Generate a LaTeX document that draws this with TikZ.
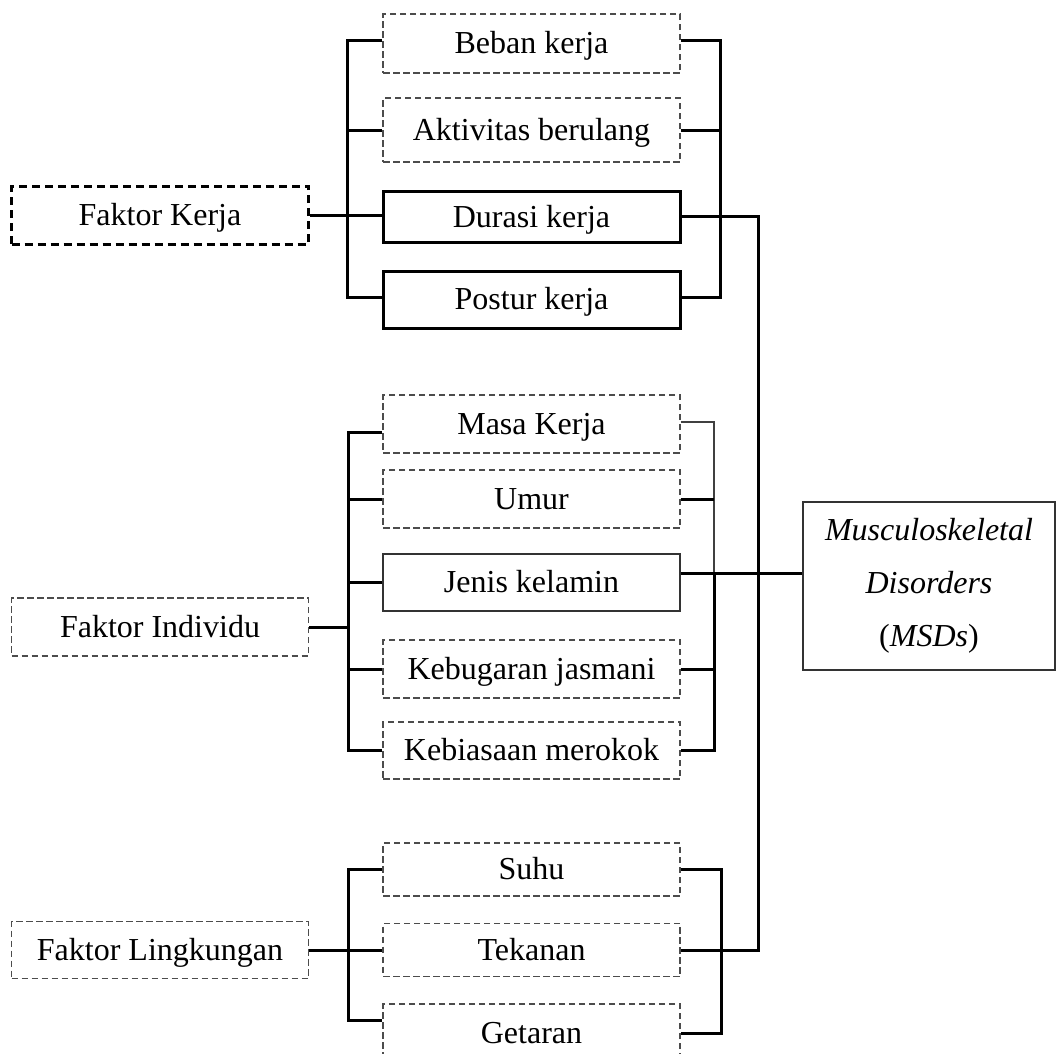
\documentclass[tikz,border=0pt]{standalone}
\usepackage{fontspec}
\setmainfont{Liberation Serif}

\begin{document}
\begin{tikzpicture}[x=1pt, y=-1pt,
    box/.style={rectangle, minimum width=297pt, inner sep=0pt, text height=21pt, text depth=1pt, font=\fontsize{32}{38}\selectfont},
    dbox/.style={box, draw=black!70, line width=1.3pt, dash pattern=on 6.5pt off 3.5pt},
    sbox/.style={box, draw, line width=3pt},
    kbox/.style={box, draw, line width=3pt, dash pattern=on 8pt off 5pt},
    msdbox/.style={rectangle, draw=black!80, line width=1.3pt, align=center, inner sep=0pt, minimum width=252pt, minimum height=168pt, font=\fontsize{32}{53}\selectfont},
    tbox/.style={box, draw=black!80, line width=1.3pt},
    link/.style={line width=3pt},
    thinlink/.style={line width=1.3pt, draw=black!75},
  ]
  \useasboundingbox (0,0) rectangle (1057,1053);

  % Faktor boxes
  \node[kbox, minimum height=58pt] (fkerja)      at (160,215)   {Faktor Kerja};
  \node[dbox, minimum height=58pt] (findividu)   at (160,627)   {Faktor Individu};
  \node[dbox, minimum height=57pt] (flingkungan) at (160,950)   {Faktor Lingkungan};

  % Kerja
  \node[dbox, minimum height=59pt] (beban)     at (531.5,43.5)  {Beban kerja};
  \node[dbox, minimum height=64pt] (aktivitas) at (531.5,130)   {Aktivitas berulang};
  \node[sbox, minimum height=51pt] (durasi)    at (531.5,217)   {Durasi kerja};
  \node[sbox, minimum height=57pt] (postur)    at (531.5,299.5) {Postur kerja};

  % Individu
  \node[dbox, minimum height=58pt] (masa)      at (531.5,424)   {Masa Kerja};
  \node[dbox, minimum height=58pt] (umur)      at (531.5,499)   {Umur};
  \node[tbox, minimum height=57pt] (jenis)     at (531.5,582.5) {Jenis kelamin};
  \node[dbox, minimum height=58pt] (kebugaran) at (531.5,669)   {Kebugaran jasmani};
  \node[dbox, minimum height=57pt] (kebiasaan) at (531.5,750.5) {Kebiasaan merokok};

  % Lingkungan
  \node[dbox, minimum height=53pt] (suhu)    at (531.5,869.5) {Suhu};
  \node[dbox, minimum height=53pt] (tekanan) at (531.5,950)   {Tekanan};
  \node[dbox, minimum height=58pt] (getaran) at (531.5,1033)  {Getaran};

  % MSDs
  \node[msdbox] (msd) at (929,586) {\textit{Musculoskeletal}\\\textit{Disorders}\\(\textit{MSDs})};

  % bracket columns
  \coordinate (kl) at (347,0);
  \coordinate (kr) at (720,0);
  \coordinate (ml) at (348,0);
  \coordinate (mr) at (714,0);
  \coordinate (ll) at (348,0);
  \coordinate (lr) at (721,0);

  % Kerja -> brackets
  \draw[link] ([yshift=3.5pt]beban.west) -| ([yshift=2.5pt]postur.west -| kl) -- ([yshift=2.5pt]postur.west);
  \draw[link] (aktivitas.west) -- (aktivitas.west -| kl);
  \draw[link] (fkerja.east) -- (fkerja.east -| durasi.west);
  \draw[link] ([yshift=3.5pt]beban.east) -| ([yshift=2.5pt]postur.east -| kr) -- ([yshift=2.5pt]postur.east);
  \draw[link] (aktivitas.east) -- (aktivitas.east -| kr);

  % Durasi -> main line -> Tekanan
  \draw[link] ([yshift=1pt]durasi.east) -- ++(77,0) |- (tekanan.east);

  % Individu -> brackets
  \draw[link] ([yshift=-8pt]masa.west) -| (kebiasaan.west -| ml) -- (kebiasaan.west);
  \draw[link] (umur.west) -- (umur.west -| ml);
  \draw[link] (jenis.west) -- (jenis.west -| ml);
  \draw[link] (kebugaran.west) -- (kebugaran.west -| ml);
  \draw[link] (findividu.east) -- (findividu.east -| ml);
  \draw[thinlink] ([yshift=2pt]masa.east) -| ([yshift=9pt]jenis.east -| mr);
  \draw[link] ([yshift=9pt]jenis.east -| mr) |- (kebiasaan.east);
  \draw[link] (umur.east) -- (umur.east -| mr);
  \draw[link] (kebugaran.east) -- (kebugaran.east -| mr);

  % Jenis kelamin -> MSDs
  \draw[link] ([yshift=9pt]jenis.east) -- ([yshift=9pt]jenis.east -| msd.west);

  % Lingkungan -> brackets
  \draw[link] (suhu.west) -| ([yshift=13pt]getaran.west -| ll) -- ([yshift=13pt]getaran.west);
  \draw[link] (flingkungan.east) -- (tekanan.west);
  \draw[link] (suhu.east) -| (getaran.east -| lr) -- (getaran.east);
\end{tikzpicture}
\end{document}
